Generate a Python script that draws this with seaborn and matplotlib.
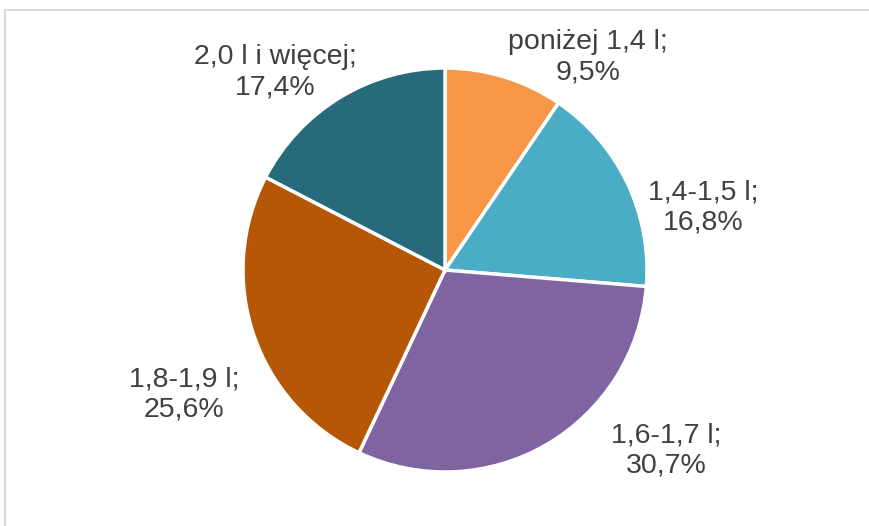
import matplotlib
matplotlib.use("Agg")
import matplotlib.pyplot as plt
import seaborn as sns
from matplotlib.patches import Rectangle

# ============================================
# Data
# ============================================
categories = ["poniżej 1,4 l", "1,4-1,5 l", "1,6-1,7 l", "1,8-1,9 l", "2,0 l i więcej"]
shares = [9.5, 16.8, 30.7, 25.6, 17.4]
colors = ["#F79646", "#4BACC6", "#8064A2", "#B65708", "#276A7C"]

# label anchor points (pixels, origin top-left)
label_pos = [(588, 57), (703, 207), (666, 450), (184, 395), (275, 72)]

# ============================================
# Plot
# ============================================
sns.set_theme(style="white")
plt.rcParams["font.family"] = ["Liberation Sans", "DejaVu Sans"]

W, H = 870, 526
fig = plt.figure(figsize=(W / 100, H / 100), dpi=100)
ax = fig.add_axes([0, 0, 1, 1])

ax.pie(shares, colors=colors, startangle=90, counterclock=False,
       center=(445, H - 270), radius=202,
       wedgeprops=dict(edgecolor="white", linewidth=2.5), frame=True)
ax.set_xlim(0, W)
ax.set_ylim(0, H)
ax.set_aspect("equal")
ax.axis("off")

for cat, val, (x, y) in zip(categories, shares, label_pos):
    txt = f"{cat};\n{val:.1f}%".replace(".", ",")
    ax.text(x, H - y, txt, ha="center", va="center", fontsize=20.5,
            color="#404040", linespacing=1.2)

# chart area border (partially visible)
fig.patches.append(Rectangle((5.5 / W, -0.1), 1.2, 1.1 - 10 / H,
                             transform=fig.transFigure, fill=False,
                             edgecolor="#D9D9D9", linewidth=1.5))

plt.savefig("out.png", dpi=100)
